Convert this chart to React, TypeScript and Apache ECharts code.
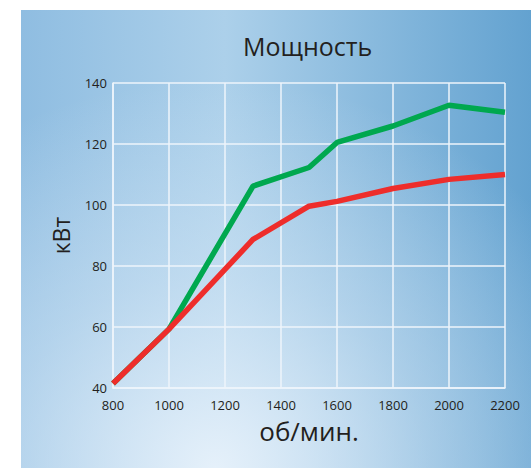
import React, { useEffect, useRef } from "react";
import * as echarts from "echarts";

const rpm = [800, 1000, 1300, 1500, 1600, 1800, 2000, 2200];
const powerGreen = [41.5, 59.3, 106.2, 112.3, 120.5, 125.9, 132.7, 130.4];
const powerRed = [41.5, 59.3, 88.7, 99.6, 101.2, 105.4, 108.4, 110.0];
const titleText = "Мощность";
const yName = "кВт";
const xName = "об/мин.";

const FONT = "'Open Sans', 'Noto Sans', sans-serif";

export default function App() {
  const ref = useRef<HTMLDivElement>(null);
  useEffect(() => {
    if (!ref.current) return;
    const chart = echarts.init(ref.current, undefined, { renderer: "svg" });
    const toPairs = (ys: number[]) => rpm.map((x, i) => [x, ys[i]]);
    chart.setOption({
      animation: false,
      backgroundColor: "#ffffff",
      title: {
        text: titleText,
        left: 238,
        top: 28,
        textStyle: { fontFamily: FONT, fontSize: 25, fontWeight: "normal", color: "#231f20" },
      },
      graphic: [
        {
          type: "rect",
          z: -100,
          silent: true,
          shape: { x: 21, y: 10, width: 510, height: 458 },
          style: {
            fill: new echarts.graphic.LinearGradient(0, 0, 1, 0, [
              { offset: 0, color: "#8fbde1" },
              { offset: 0.4, color: "#acd0ea" },
              { offset: 1, color: "#63a2d0" },
            ]),
          },
        },
        {
          type: "rect",
          z: -99,
          silent: true,
          shape: { x: 21, y: 10, width: 510, height: 458 },
          style: {
            fill: new echarts.graphic.RadialGradient(0.38, 1.0, 0.85, [
              { offset: 0, color: "rgba(232,242,251,0.95)" },
              { offset: 0.5, color: "rgba(220,235,248,0.45)" },
              { offset: 1, color: "rgba(220,235,248,0)" },
            ]),
          },
        },
      ],
      grid: { left: 113, right: 26, top: 83, bottom: 80, containLabel: false },
      xAxis: {
        type: "value",
        min: 800,
        max: 2200,
        interval: 200,
        name: xName,
        nameLocation: "middle",
        nameGap: 30,
        nameTextStyle: { fontFamily: FONT, fontSize: 26, color: "#231f20" },
        axisLine: { show: true, lineStyle: { color: "#eef5fb", width: 1.5 } },
        axisTick: { show: false },
        axisLabel: {
          fontFamily: FONT,
          fontSize: 13,
          color: "#231f20",
          margin: 10,
          formatter: (v: number) => String(v),
        },
        splitLine: { show: true, lineStyle: { color: "#eef5fb", width: 1.5 } },
      },
      yAxis: {
        type: "value",
        min: 40,
        max: 140,
        interval: 20,
        name: yName,
        nameLocation: "middle",
        nameGap: 41,
        nameTextStyle: { fontFamily: FONT, fontSize: 23, color: "#231f20" },
        axisLine: { show: true, lineStyle: { color: "#eef5fb", width: 1.5 } },
        axisTick: { show: false },
        axisLabel: {
          fontFamily: FONT,
          fontSize: 13,
          color: "#231f20",
          margin: 6,
          formatter: (v: number) => String(v),
        },
        splitLine: { show: true, lineStyle: { color: "#eef5fb", width: 1.5 } },
      },
      series: [
        {
          type: "line",
          data: toPairs(powerGreen),
          symbol: "none",
          lineStyle: { color: "#00a84f", width: 5.5 },
          z: 3,
        },
        {
          type: "line",
          data: toPairs(powerRed),
          symbol: "none",
          lineStyle: { color: "#ee2d2b", width: 5.5 },
          z: 4,
        },
      ],
    });
    return () => chart.dispose();
  }, []);
  return (
    <div
      ref={ref}
      style={{ position: "fixed", left: 0, top: 0, width: 531, height: 468 }}
    />
  );
}
